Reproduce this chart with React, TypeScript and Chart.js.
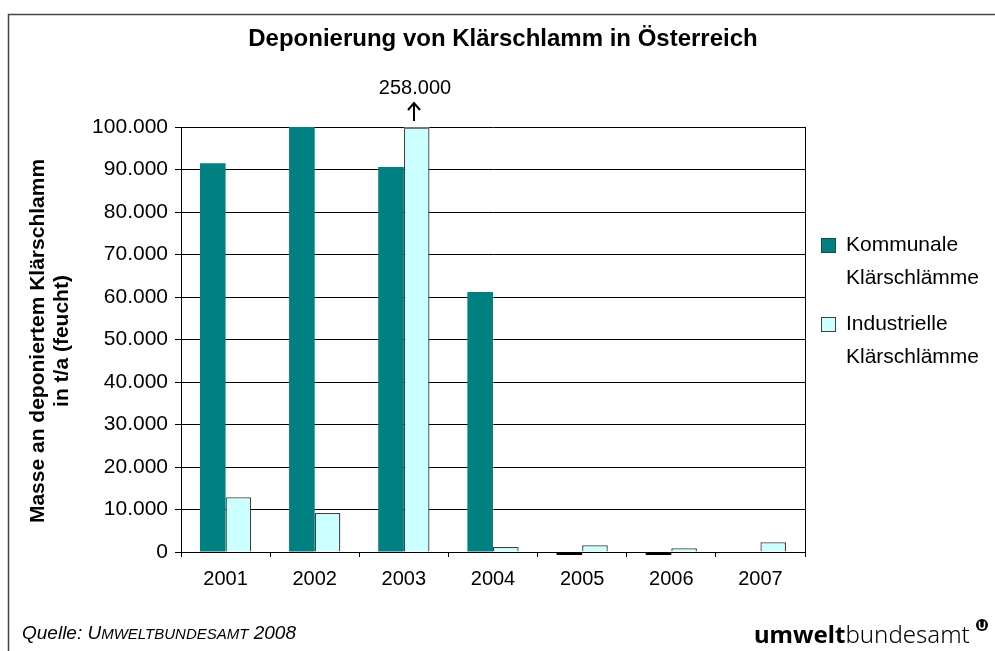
import { useEffect, useRef } from "react";
import { Chart, registerables } from "chart.js";

Chart.register(...registerables);

const years = ["2001", "2002", "2003", "2004", "2005", "2006", "2007"];
const kommunale = [91500, 100000, 90600, 61200, -700, -700, 0];
const industrielle = [12900, 9200, 258000, 1200, 1600, 900, 2300];
const seriesNames = ["Kommunale Klärschlämme", "Industrielle Klärschlämme"];
const legendLines = [
  ["Kommunale", "Klärschlämme"],
  ["Industrielle", "Klärschlämme"],
];
const titleText = "Deponierung von Klärschlamm in Österreich";
const yTitleLines = ["Masse an deponiertem Klärschlamm", "in t/a (feucht)"];
const overflowLabel = "258.000";
const overflowIndex = 2;
const yMin = 0;
const yMax = 100000;
const yStep = 10000;

const TEAL = "#008080";
const LIGHT = "#CCFFFF";
const FONT = "'Liberation Sans', Arial, sans-serif";

function fmt(v: number): string {
  return String(v).replace(/\B(?=(\d{3})+(?!\d))/g, ".");
}

const decorPlugin = {
  id: "decor",
  afterDraw(chart: any) {
    const ctx = chart.ctx as CanvasRenderingContext2D;
    const area = chart.chartArea;
    ctx.save();

    // outer frame
    ctx.strokeStyle = "#444";
    ctx.lineWidth = 1.5;
    ctx.beginPath();
    ctx.moveTo(8.5, 651);
    ctx.lineTo(8.5, 14.5);
    ctx.lineTo(995, 14.5);
    ctx.stroke();

    // plot right border
    ctx.strokeStyle = "#000";
    ctx.lineWidth = 1;
    ctx.beginPath();
    ctx.moveTo(Math.round(area.right) + 0.5, area.top);
    ctx.lineTo(Math.round(area.right) + 0.5, area.bottom);
    ctx.stroke();

    // overflow bar top stripe
    const bar = chart.getDatasetMeta(1).data[overflowIndex];
    if (bar) {
      ctx.fillStyle = "#777";
      ctx.fillRect(bar.x - bar.width / 2, area.top, bar.width, 2);
    }

    // title
    ctx.fillStyle = "#000";
    ctx.font = `bold 24px ${FONT}`;
    ctx.textAlign = "center";
    ctx.textBaseline = "middle";
    ctx.fillText(titleText, 503, 39);

    // y title
    ctx.save();
    ctx.translate(38, 341);
    ctx.rotate(-Math.PI / 2);
    ctx.font = `bold 21px ${FONT}`;
    ctx.textAlign = "center";
    ctx.textBaseline = "middle";
    ctx.fillText(yTitleLines[0], 0, 0);
    ctx.fillText(yTitleLines[1], 0, 24);
    ctx.restore();

    // legend
    const colors = [TEAL, LIGHT];
    const legendTops = [238, 317];
    ctx.font = `21px ${FONT}`;
    ctx.textAlign = "left";
    ctx.textBaseline = "middle";
    legendLines.forEach((lines, i) => {
      const top = legendTops[i];
      ctx.fillStyle = colors[i];
      ctx.fillRect(821, top, 14, 14);
      ctx.strokeStyle = i === 0 ? "#1a4a4a" : "#404040";
      ctx.lineWidth = 1;
      ctx.strokeRect(821.5, top + 0.5, 14, 14);
      ctx.fillStyle = "#000";
      ctx.fillText(lines[0], 846, top + 7);
      ctx.fillText(lines[1], 846, top + 40);
    });

    // overflow annotation
    if (bar) {
      const x = Math.round(bar.x) - 3;
      ctx.font = `20px ${FONT}`;
      ctx.textAlign = "center";
      ctx.fillStyle = "#000";
      ctx.fillText(overflowLabel, x + 1, 88);
      ctx.strokeStyle = "#000";
      ctx.lineWidth = 2;
      ctx.beginPath();
      ctx.moveTo(x, 121);
      ctx.lineTo(x, 103);
      ctx.moveTo(x - 6, 110);
      ctx.lineTo(x, 103);
      ctx.lineTo(x + 6, 110);
      ctx.stroke();
    }

    // source
    ctx.textAlign = "left";
    ctx.textBaseline = "alphabetic";
    ctx.fillStyle = "#000";
    let sx = 22;
    const by = 639;
    ctx.font = `italic 19px ${FONT}`;
    ctx.fillText("Quelle: U", sx, by);
    sx += ctx.measureText("Quelle: U").width;
    ctx.font = `italic 15px ${FONT}`;
    ctx.fillText("MWELTBUNDESAMT", sx, by);
    sx += ctx.measureText("MWELTBUNDESAMT").width;
    ctx.font = `italic 19px ${FONT}`;
    ctx.fillText(" 2008", sx, by);

    // logo
    let lx = 754;
    const ly = 643;
    ctx.font = `bold 24px 'Noto Sans', sans-serif`;
    ctx.fillText("umwelt", lx, ly);
    lx += ctx.measureText("umwelt").width;
    ctx.font = `300 24px 'Noto Sans', sans-serif`;
    ctx.fillText("bundesamt", lx, ly);
    ctx.beginPath();
    ctx.arc(982, 625, 6, 0, Math.PI * 2);
    ctx.fillStyle = "#000";
    ctx.fill();
    ctx.strokeStyle = "#fff";
    ctx.lineWidth = 1.6;
    ctx.beginPath();
    ctx.moveTo(979.5, 621.5);
    ctx.lineTo(979.5, 626);
    ctx.arc(982, 626, 2.5, Math.PI, 0, true);
    ctx.lineTo(984.5, 621.5);
    ctx.stroke();

    ctx.restore();
  },
};

export default function App() {
  const ref = useRef<HTMLCanvasElement | null>(null);

  useEffect(() => {
    if (!ref.current) return;
    const chart = new Chart(ref.current, {
      type: "bar",
      data: {
        labels: years,
        datasets: [
          {
            label: seriesNames[0],
            data: kommunale,
            backgroundColor: (c: any) => (c.raw < 0 ? "#000" : TEAL),
            borderWidth: 0,
            clip: { left: 0, top: 0, right: 0, bottom: 5 } as any,
          },
          {
            label: seriesNames[1],
            data: industrielle,
            backgroundColor: LIGHT,
            borderColor: "#404040",
            borderWidth: 1.3,
            clip: { left: 0, top: 0, right: 0, bottom: 5 } as any,
          },
        ],
      },
      options: {
        animation: false,
        responsive: false,
        maintainAspectRatio: false,
        categoryPercentage: 0.575,
        barPercentage: 1.0,
        layout: { padding: { top: 127, right: 190, bottom: 0, left: 0 } },
        plugins: {
          legend: { display: false },
          title: { display: false },
          tooltip: { enabled: false },
        },
        scales: {
          x: {
            grid: {
              display: true,
              drawOnChartArea: false,
              drawTicks: true,
              tickLength: 5,
              offset: true,
              color: "#000",
            },
            border: { display: true, color: "#000", width: 1 },
            ticks: {
              color: "#000",
              font: { family: FONT, size: 20 },
              padding: 10,
              maxRotation: 0,
            },
            afterFit: (s: any) => {
              s.height = 99;
            },
          },
          y: {
            min: yMin,
            max: yMax,
            grid: { color: "#000", lineWidth: 1, tickLength: 6 },
            border: { display: true, color: "#000", width: 1 },
            ticks: {
              stepSize: yStep,
              color: "#000",
              font: { family: FONT, size: 21 },
              padding: 7,
              callback: (v: any) => fmt(Number(v)),
            },
            afterFit: (s: any) => {
              s.width = 181;
            },
          },
        },
      },
      plugins: [decorPlugin],
    });
    return () => chart.destroy();
  }, []);

  return (
    <div style={{ position: "absolute", left: 0, top: 0, width: 995, height: 651, background: "#fff" }}>
      <canvas ref={ref} width={995} height={651} style={{ display: "block" }} />
    </div>
  );
}
